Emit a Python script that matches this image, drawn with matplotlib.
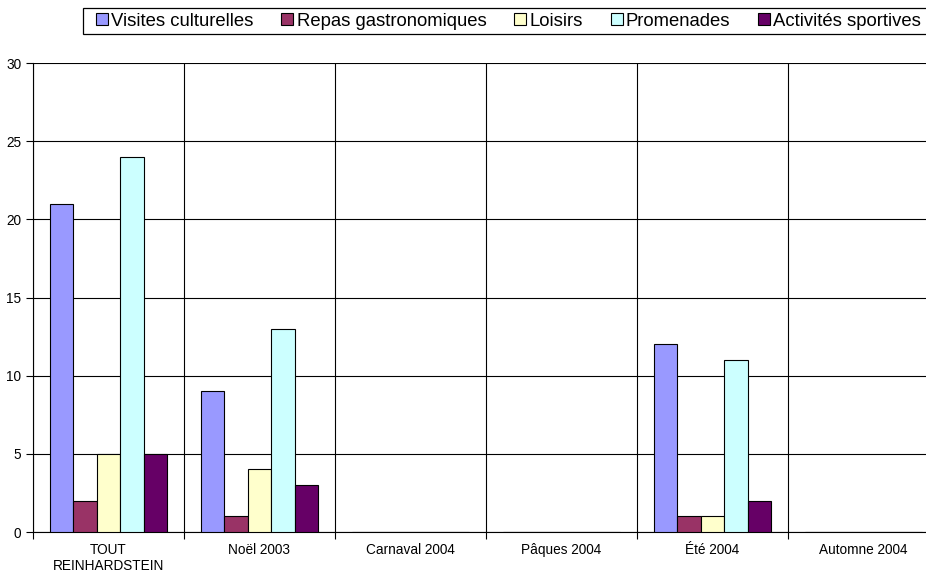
import numpy as np
import matplotlib.pyplot as plt
from matplotlib.patches import Patch, Rectangle

plt.rcParams['font.family'] = ['Liberation Sans', 'DejaVu Sans']

categories = ["TOUT\nREINHARDSTEIN", "Noël 2003", "Carnaval 2004", "Pâques 2004", "Été 2004", "Automne 2004"]
series_names = ["Visites culturelles", "Repas gastronomiques", "Loisirs", "Promenades", "Activités sportives"]
visites = [21, 9, 0, 0, 12, 0]
repas = [2, 1, 0, 0, 1, 0]
loisirs = [5, 4, 0, 0, 1, 0]
promenades = [24, 13, 0, 0, 11, 0]
sportives = [5, 3, 0, 0, 2, 0]
colors = ["#9999FF", "#993366", "#FFFFCC", "#CCFFFF", "#660066"]

series = [visites, repas, loisirs, promenades, sportives]

fig = plt.figure(figsize=(9.26, 5.75), dpi=100)
ax = fig.add_axes([33 / 926, 43 / 575, 906 / 926, 469 / 575])

x = np.arange(len(categories))
w = 0.155
for i, (vals, c) in enumerate(zip(series, colors)):
    ax.bar(x + (i - 2) * w, vals, width=w, color=c, edgecolor="black", linewidth=0.8, zorder=3)

ax.set_xlim(-0.5, len(categories) - 0.5)
ax.set_ylim(0, 30)
ax.set_yticks(range(0, 31, 5))
ax.yaxis.grid(True, color="black", linewidth=0.8, zorder=0)

# category boundaries as vertical grid lines
ax.set_xticks(np.arange(len(categories) + 1) - 0.5, minor=False)
ax.set_xticklabels([])
ax.xaxis.grid(True, color="black", linewidth=0.8, zorder=0)
ax.set_xticks(x, minor=True)
ax.set_xticklabels(categories, minor=True, fontsize=9.8, linespacing=1.15)
ax.tick_params(axis="x", which="minor", length=0, pad=8)
ax.tick_params(axis="x", which="major", length=5, width=0.8)
ax.tick_params(axis="y", length=5, width=0.8, labelsize=9.8)

for s in ["top", "right"]:
    ax.spines[s].set_visible(False)
ax.spines["left"].set_linewidth(0.8)
ax.spines["bottom"].set_linewidth(0.8)

# legend box (extends past the right edge like the original)
fig.patches.append(Rectangle((83 / 926, 1 - 34 / 575), 900 / 926, 26 / 575,
                             transform=fig.transFigure, facecolor="white",
                             edgecolor="black", linewidth=0.9, zorder=1))
handles = [Patch(facecolor=c, edgecolor="black", linewidth=0.8) for c in colors]
fig.legend(handles, series_names, loc="center left", bbox_to_anchor=(96 / 926, 1 - 21 / 575),
           ncol=5, fontsize=13.3, frameon=False,
           handlelength=0.65, handleheight=0.65, handletextpad=0.18, columnspacing=1.5,
           borderpad=0, borderaxespad=0)

fig.savefig("out.png", dpi=100)
